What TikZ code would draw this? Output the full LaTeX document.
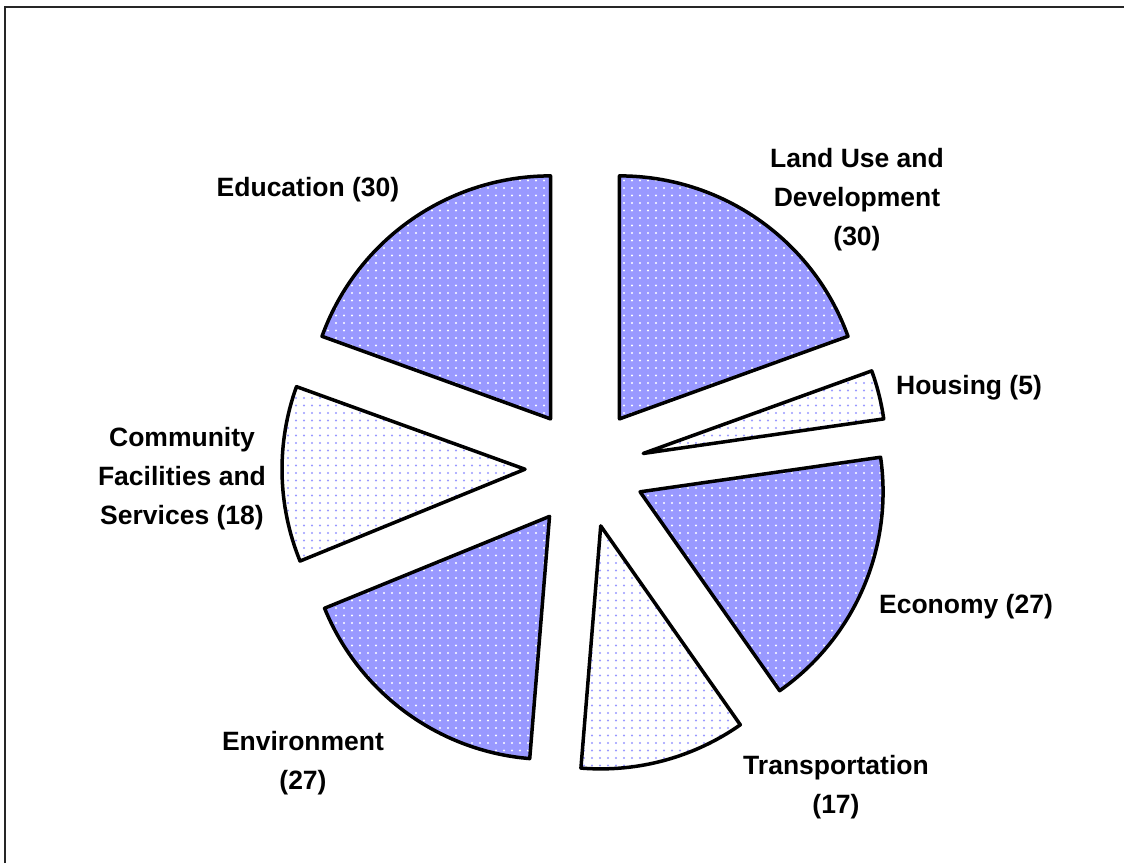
\documentclass[tikz,border=0pt]{standalone}
\usepackage{fontspec}
\setmainfont{Liberation Sans}
\usepackage{tikz}
\usetikzlibrary{patterns}
\usepackage{color}

\definecolor{pieblue}{HTML}{9999FF}
\definecolor{dotblue}{HTML}{9999FF}

\pgfdeclarepatternformonly{piedots}{\pgfqpoint{-1.5pt}{-1.5pt}}{\pgfqpoint{1.5pt}{1.5pt}}{\pgfqpoint{8pt}{7.5pt}}%
{\pgfpathcircle{\pgfqpoint{0pt}{0pt}}{1.1pt}\pgfusepath{fill}}

\begin{document}
\begin{tikzpicture}[x=1pt,y=1pt,
  darkslice/.style={draw=black, line width=3.5pt, line join=round,
    preaction={fill=pieblue}, preaction={pattern=piedots, pattern color=white}},
  lightslice/.style={draw=black, line width=3.5pt, line join=round,
    preaction={fill=white}, preaction={pattern=piedots, pattern color=dotblue}},
  lbl/.style={align=center, font=\bfseries\fontsize{26.5}{39}\selectfont, inner sep=0pt}]
\useasboundingbox (-585,-395) rectangle (539,468);
\draw[black!85, line width=2pt] (-579.5,-395) -- (-579.5,460.5) -- (539,460.5);

% slices, clockwise from the top
\draw[darkslice, shift={(54.935:60)}] (0,0) -- (90:243) arc[start angle=90, end angle=19.870, radius=243] -- cycle;
\draw[lightslice, shift={(14.026:60)}] (0,0) -- (19.870:243) arc[start angle=19.870, end angle=8.182, radius=243] -- cycle;
\draw[darkslice, shift={(-23.377:60)}] (0,0) -- (8.182:243) arc[start angle=8.182, end angle=-54.935, radius=243] -- cycle;
\draw[lightslice, shift={(-74.805:60)}] (0,0) -- (-54.935:243) arc[start angle=-54.935, end angle=-94.675, radius=243] -- cycle;
\draw[darkslice, shift={(-126.234:60)}] (0,0) -- (-94.675:243) arc[start angle=-94.675, end angle=-157.792, radius=243] -- cycle;
\draw[lightslice, shift={(-178.831:60)}] (0,0) -- (-157.792:243) arc[start angle=-157.792, end angle=-199.870, radius=243] -- cycle;
\draw[darkslice, shift={(-234.935:60)}] (0,0) -- (-199.870:243) arc[start angle=-199.870, end angle=-270, radius=243] -- cycle;

% labels
\node[lbl] (landuse) at (272,268) {Land Use and\\Development\\(30)};
\node[lbl] (housing) at (384,80) {Housing (5)};
\node[lbl] (economy) at (381,-139) {Economy (27)};
\node[lbl] (transport) at (251,-319) {Transportation\\(17)};
\node[lbl] (environment) at (-282,-295) {Environment\\(27)};
\node[lbl] (community) at (-403,-11) {Community\\Facilities and\\Services (18)};
\node[lbl] (education) at (-277,278) {Education (30)};

\end{tikzpicture}
\end{document}
